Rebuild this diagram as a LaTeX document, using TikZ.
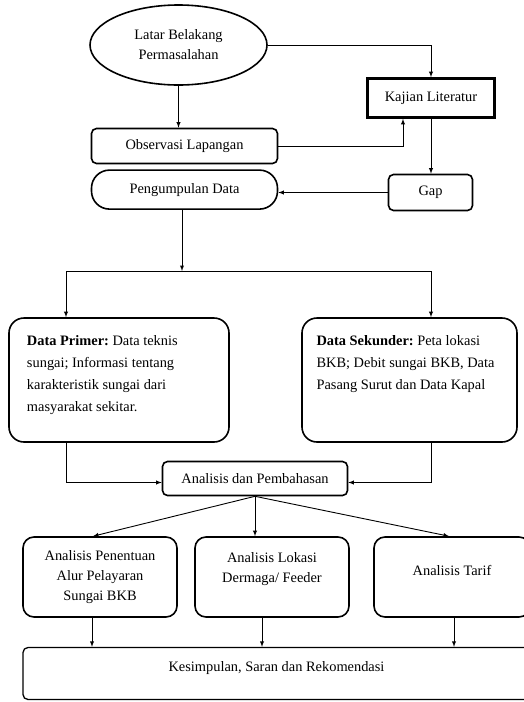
\documentclass[tikz,border=0pt]{standalone}
\usepackage{fontspec}
\setmainfont{Liberation Serif}
\usetikzlibrary{shapes,arrows,positioning,calc}
\frenchspacing

\begin{document}
\begin{tikzpicture}[x=1pt, y=-1pt, >=latex, line width=0.9pt,
        font=\fontsize{14.4}{20}\selectfont,
        oval/.style={ellipse, draw, line width=1.6pt, align=center, inner sep=0pt, minimum width=177pt, minimum height=80pt},
        box/.style={rectangle, draw, line width=1.6pt, rounded corners=5pt, align=center, inner sep=0pt},
        datbox/.style={rectangle, draw, line width=1.6pt, rounded corners=15pt, inner sep=0pt, minimum width=220pt, minimum height=124pt},
        anbox/.style={rectangle, draw, line width=1.6pt, rounded corners=11pt, align=center, inner sep=0pt, minimum width=154pt, minimum height=80pt}]

        \useasboundingbox (0,0) rectangle (523,702);

        \node [oval] (latar) at (178.5,45) {Latar Belakang\\Permasalahan};
        \node [box, rounded corners=0pt, line width=2.6pt, minimum width=127pt, minimum height=39pt] (kajian) at (431,98) {Kajian Literatur};
        \node [box, minimum width=186pt, minimum height=35pt] (observasi) at (184.5,146) {Observasi Lapangan};
        \node [box, rounded corners=18pt, minimum width=186pt, minimum height=39pt, below=5pt of observasi] (kumpul) {Pengumpulan Data};
        \node [box, minimum width=84pt, minimum height=36pt] (gap) at (430.5,192.5) {Gap};

        \node [datbox] (primer) at (119,380) {\parbox[c][88pt][t]{184pt}{\fontsize{14.4}{21.7}\selectfont\raggedright
            \textbf{Data Primer:} Data teknis\\sungai; Informasi tentang\\karakteristik sungai dari\\masyarakat sekitar.}};
        \node [datbox, minimum width=215pt] (sekunder) at (409.5,380) {\parbox[c][88pt][t]{186pt}{\fontsize{14.4}{21.7}\selectfont\raggedright
            \textbf{Data Sekunder:} Peta lokasi\\BKB; Debit sungai BKB, Data\\Pasang Surut dan Data Kapal}};

        \node [box, minimum width=185pt, minimum height=34pt] (analisis) at (255,478.5) {Analisis dan Pembahasan};
        \node [anbox] (alur) at (100,577) {Analisis Penentuan\\Alur Pelayaran\\Sungai BKB};
        \node [anbox, text depth=19pt] (lokasi) at (272,577) {Analisis Lokasi\\Dermaga/ Feeder};
        \node [anbox, minimum width=156pt, text depth=14pt] (tarif) at (452,577) {Analisis Tarif};
        \node [box, line width=1.3pt, minimum width=507pt, minimum height=52pt, text depth=14pt] (simpul) at (276.5,673.5) {Kesimpulan, Saran dan Rekomendasi};

        \coordinate (split) at (182,271);
        \coordinate (lft) at (66,271);
        \coordinate (rgt) at (431,271);

        \draw [->] (latar.east) -| (kajian.north);
        \draw [->] (latar.south) -- (latar.south |- observasi.north);
        \draw [->] (observasi.east) -| ($(kajian.south)+(-28,0)$);
        \draw [->] (kajian.south) -- (kajian.south |- gap.north);
        \draw [->] (gap.west) -- (gap.west -| kumpul.east);
        \draw [->] (split |- kumpul.south) -- (split);
        \draw (lft) -- (rgt);
        \draw [->] (lft) -- (lft |- primer.north);
        \draw [->] (rgt) -- (rgt |- sekunder.north);
        \draw [->] (lft |- primer.south) |- ([yshift=-4pt]analisis.west);
        \draw [->] (rgt |- sekunder.south) |- ([yshift=-4pt]analisis.east);
        \draw [->] (analisis.south) -- ([xshift=-7pt]alur.north);
        \draw [->] (analisis.south) -- (analisis.south |- lokasi.north);
        \draw [->] (analisis.south) -- ([xshift=-3pt]tarif.north);
        \draw [->] ([xshift=-8pt]alur.south) -- ([xshift=-8pt]alur.south |- simpul.north);
        \draw [->] ([xshift=-10pt]lokasi.south) -- ([xshift=-10pt]lokasi.south |- simpul.north);
        \draw [->] ([xshift=2pt]tarif.south) -- ([xshift=2pt]tarif.south |- simpul.north);
    \end{tikzpicture}
\end{document}
